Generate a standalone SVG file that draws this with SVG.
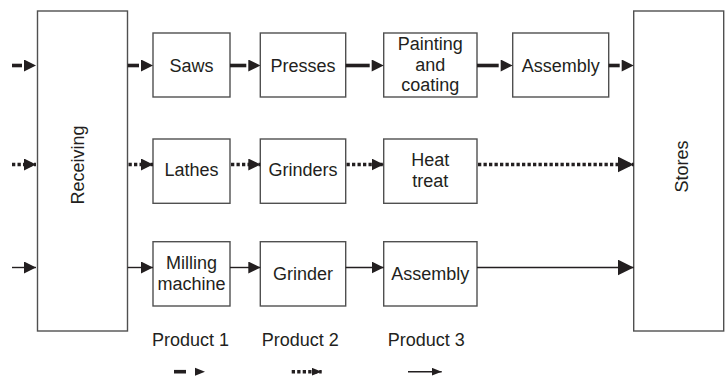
<svg xmlns="http://www.w3.org/2000/svg" width="725" height="376" viewBox="0 0 725 376">
<style>
.box{fill:#fff;stroke:#505050;stroke-width:1.4}
.t{font-family:"Liberation Sans",Arial,Helvetica,sans-serif;font-size:18px;fill:#231f20;text-anchor:middle}
.p1{stroke:#231f20;stroke-width:3.6;fill:none}
.p2{stroke:#231f20;stroke-width:3.6;fill:none;stroke-dasharray:3.3 2.2}
.p3{stroke:#231f20;stroke-width:1.4;fill:none}
.hd{fill:#231f20}
</style>
<defs>
<marker id="ahg" viewBox="0 0 14 12" refX="0" refY="6" markerWidth="14" markerHeight="12" markerUnits="userSpaceOnUse" orient="auto"><path class="hd" d="M2,0 L14,6 L2,12 Z"/></marker>
<marker id="ah" viewBox="0 0 12 12" refX="12" refY="6" markerWidth="12" markerHeight="12" markerUnits="userSpaceOnUse" orient="auto"><path class="hd" d="M0,0 L12,6 L0,12 Z"/></marker>
<marker id="ahb" viewBox="0 0 16 16" refX="16" refY="8" markerWidth="16" markerHeight="16" markerUnits="userSpaceOnUse" orient="auto"><path class="hd" d="M0,0 L16,8 L0,16 Z"/></marker>
<marker id="ahs" viewBox="0 0 10 8" refX="10" refY="4" markerWidth="10" markerHeight="8" markerUnits="userSpaceOnUse" orient="auto"><path class="hd" d="M0,0 L10,4 L0,8 Z"/></marker>
</defs>

<g id="receiving"><rect class="box" x="37.5" y="11" width="90" height="320"/><text class="t" transform="translate(83.5,165) rotate(-90)">Receiving</text></g>
<g id="stores"><rect class="box" x="633.7" y="11" width="90" height="320"/><text class="t" transform="translate(688,166.5) rotate(-90)">Stores</text></g>

<g id="saws"><rect class="box" x="153" y="33" width="77" height="64"/><text class="t" x="191.5" y="72">Saws</text></g>
<g id="presses"><rect class="box" x="260.3" y="33" width="85.4" height="64"/><text class="t" x="303" y="72">Presses</text></g>
<g id="painting"><rect class="box" x="383.7" y="33" width="93.3" height="64"/><text class="t" x="430.3" y="50">Painting</text><text class="t" x="430.3" y="70.5">and</text><text class="t" x="430.3" y="91">coating</text></g>
<g id="assembly1"><rect class="box" x="512.7" y="33" width="96" height="64"/><text class="t" x="560.7" y="72">Assembly</text></g>

<g id="lathes"><rect class="box" x="153" y="139" width="77" height="64.3"/><text class="t" x="191.5" y="175.5">Lathes</text></g>
<g id="grinders"><rect class="box" x="260.3" y="139" width="85.4" height="64.3"/><text class="t" x="303" y="175.5">Grinders</text></g>
<g id="heattreat"><rect class="box" x="383.7" y="139" width="93.3" height="64.3"/><text class="t" x="430.3" y="165.5">Heat</text><text class="t" x="430.3" y="186.5">treat</text></g>

<g id="milling"><rect class="box" x="153" y="241.7" width="77" height="64.3"/><text class="t" x="191.5" y="269">Milling</text><text class="t" x="191.5" y="290">machine</text></g>
<g id="grinder"><rect class="box" x="260.3" y="241.7" width="85.4" height="64.3"/><text class="t" x="303" y="280">Grinder</text></g>
<g id="assembly3"><rect class="box" x="383.7" y="241.7" width="93.3" height="64.3"/><text class="t" x="430.3" y="280">Assembly</text></g>

<g id="labels">
<text class="t" x="190.5" y="346">Product 1</text>
<text class="t" x="300.3" y="346">Product 2</text>
<text class="t" x="426.3" y="346">Product 3</text>
</g>

<g id="connectors">
<line class="p1" x1="12" y1="65.5" x2="22" y2="65.5" marker-end="url(#ahg)"/>
<line class="p1" x1="127.7" y1="65.5" x2="139" y2="65.5" marker-end="url(#ahg)"/>
<line class="p1" x1="230" y1="65.5" x2="246.3" y2="65.5" marker-end="url(#ahg)"/>
<line class="p1" x1="345.7" y1="65.5" x2="369.7" y2="65.5" marker-end="url(#ahg)"/>
<line class="p1" x1="477" y1="65.5" x2="498.7" y2="65.5" marker-end="url(#ahg)"/>
<line class="p1" x1="608.7" y1="65.5" x2="619.7" y2="65.5" marker-end="url(#ahg)"/>

<line class="p2" x1="12" y1="164.5" x2="36" y2="164.5" marker-end="url(#ah)"/>
<line class="p2" x1="128.5" y1="164.5" x2="153" y2="164.5" marker-end="url(#ah)"/>
<line class="p2" x1="231" y1="164.5" x2="260.3" y2="164.5" marker-end="url(#ah)"/>
<line class="p2" x1="346.5" y1="164.5" x2="383.7" y2="164.5" marker-end="url(#ah)"/>
<line class="p2" x1="478" y1="164.5" x2="633.7" y2="164.5" marker-end="url(#ahb)"/>

<line class="p3" x1="12" y1="267.5" x2="36" y2="267.5" marker-end="url(#ah)"/>
<line class="p3" x1="127.7" y1="267.5" x2="153" y2="267.5" marker-end="url(#ah)"/>
<line class="p3" x1="230" y1="267.5" x2="260.3" y2="267.5" marker-end="url(#ah)"/>
<line class="p3" x1="345.7" y1="267.5" x2="383.7" y2="267.5" marker-end="url(#ah)"/>
<line class="p3" x1="477" y1="267.5" x2="633.7" y2="267.5" marker-end="url(#ahb)"/>
</g>

<g id="legend">
<line class="p1" x1="174" y1="371.7" x2="186" y2="371.7"/>
<polygon class="hd" points="195,367.7 205,371.7 195,375.7"/>
<line class="p2" x1="291.7" y1="371.7" x2="321.7" y2="371.7" marker-end="url(#ahs)"/>
<line class="p3" x1="408" y1="371.7" x2="441.7" y2="371.7" marker-end="url(#ahs)"/>
</g>
</svg>
